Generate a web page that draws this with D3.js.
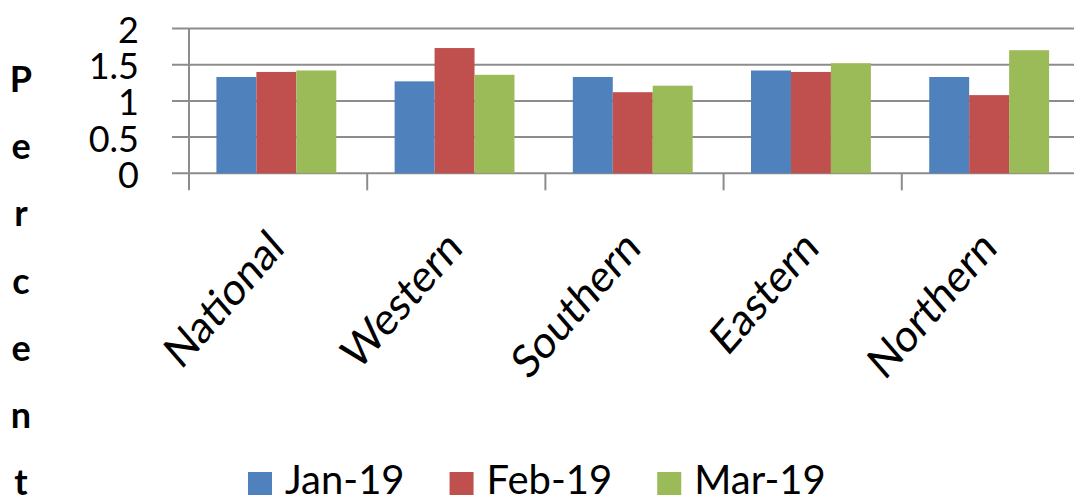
<!DOCTYPE html>
<html>
<head>
<meta charset="utf-8">
<script src="https://cdn.jsdelivr.net/npm/d3@7"></script>
<style>
  html, body { margin: 0; padding: 0; background: #fff; }
  svg { display: block; font-family: Lato, "Open Sans", sans-serif; }
</style>
</head>
<body>
<div class="js-container"></div>
<script>
;(function() {
  'use strict';

  var categories = ['National', 'Western', 'Southern', 'Eastern', 'Northern'];
  var series = ['Jan-19', 'Feb-19', 'Mar-19'];
  var jan = [1.33, 1.27, 1.33, 1.42, 1.33];
  var feb = [1.40, 1.73, 1.12, 1.40, 1.08];
  var mar = [1.42, 1.36, 1.21, 1.52, 1.70];
  var yTicks = [0, 0.5, 1, 1.5, 2];
  var yTickLabels = ['0', '0.5', '1', '1.5', '2'];
  var axisTitle = 'Percent';

  var colors = ['#4f81bd', '#c0504d', '#9bbb59'];
  var values = [jan, feb, mar];

  var W = 1074, H = 499;

  var svg = d3.select('.js-container').append('svg')
      .attr('width', W)
      .attr('height', H);

  // plot area; the right edge runs off the picture like in the original
  var x0 = d3.scaleBand()
      .domain(categories)
      .range([189, 1080])
      .paddingInner(0)
      .paddingOuter(0);

  var x1 = d3.scaleBand()
      .domain(series)
      .range([0, x0.bandwidth()])
      .paddingInner(0)
      .paddingOuter(0.73)
      .align(0.47);

  var y = d3.scaleLinear()
      .domain([0, 2])
      .range([173.3, 28.5]);

  var gridColor = '#8c8c8c';

  // gridlines plus the small ticks left of the axis
  svg.append('g').selectAll('line')
      .data(yTicks)
      .join('line')
      .attr('x1', 172)
      .attr('x2', W)
      .attr('y1', function(d) { return y(d); })
      .attr('y2', function(d) { return y(d); })
      .attr('stroke', gridColor)
      .attr('stroke-width', 2);

  // value axis line
  svg.append('line')
      .attr('x1', x0.range()[0])
      .attr('x2', x0.range()[0])
      .attr('y1', y(2))
      .attr('y2', y(0) + 17)
      .attr('stroke', gridColor)
      .attr('stroke-width', 2);

  // category tick marks between groups
  svg.append('g').selectAll('line')
      .data(categories.slice(1))
      .join('line')
      .attr('x1', function(d) { return x0(d); })
      .attr('x2', function(d) { return x0(d); })
      .attr('y1', y(0))
      .attr('y2', y(0) + 17)
      .attr('stroke', gridColor)
      .attr('stroke-width', 2);

  // bars
  var groups = svg.append('g').selectAll('g')
      .data(categories)
      .join('g')
      .attr('transform', function(d) { return 'translate(' + x0(d) + ',0)'; });

  groups.selectAll('rect')
      .data(function(d, i) {
        return series.map(function(s, j) {
          return { s: s, v: values[j][i], c: colors[j] };
        });
      })
      .join('rect')
      .attr('x', function(d) { return x1(d.s); })
      .attr('width', x1.bandwidth())
      .attr('y', function(d) { return y(d.v); })
      .attr('height', function(d) { return y(0) - y(d.v); })
      .attr('fill', function(d) { return d.c; });

  // y tick labels (they touch each other in the original too)
  svg.append('g').selectAll('text')
      .data(yTicks)
      .join('text')
      .attr('x', 139)
      .attr('y', function(d) { return y(d); })
      .attr('dy', '0.4em')
      .attr('text-anchor', 'end')
      .attr('font-size', 36)
      .attr('fill', '#000')
      .text(function(d, i) { return yTickLabels[i]; });

  // category labels, rotated; the source picture is a bit stretched vertically
  svg.append('g').selectAll('text')
      .data(categories)
      .join('text')
      .attr('transform', function(d) {
        return 'translate(' + (x0(d) + x0.bandwidth() / 2 + 8) + ',250) scale(1,1.15) rotate(-45)';
      })
      .attr('text-anchor', 'end')
      .attr('font-size', 40)
      .attr('fill', '#000')
      .text(function(d) { return d; });

  // axis title, one letter per line
  var baselines = d3.scaleLinear()
      .domain([0, axisTitle.length - 1])
      .range([92, 495]);

  svg.append('g').selectAll('text')
      .data(axisTitle.split(''))
      .join('text')
      .attr('x', 21)
      .attr('y', function(d, i) { return baselines(i); })
      .attr('text-anchor', 'middle')
      .attr('font-size', 36)
      .attr('font-weight', 'bold')
      .attr('fill', '#000')
      .text(function(d) { return d; });

  // legend
  var legend = svg.append('g');
  var lx = 248;
  series.forEach(function(s, i) {
    legend.append('rect')
        .attr('x', lx)
        .attr('y', 472)
        .attr('width', 24)
        .attr('height', 23)
        .attr('fill', colors[i]);
    var t = legend.append('text')
        .attr('x', lx + 37)
        .attr('y', 494)
        .attr('font-size', 40)
        .attr('fill', '#000')
        .text(s);
    lx += 37 + t.node().getComputedTextLength() + 45;
  });

}());
</script>
</body>
</html>
